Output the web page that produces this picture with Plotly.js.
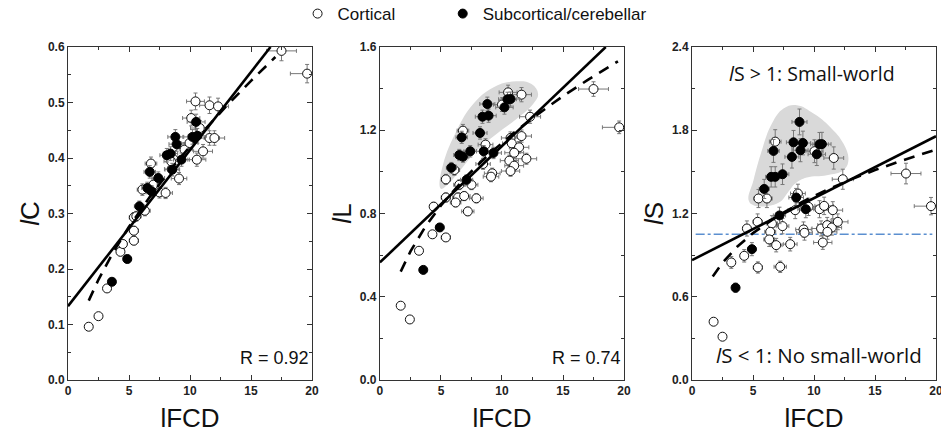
<!DOCTYPE html>
<html>
<head>
<meta charset="utf-8">
<script src="https://cdn.plot.ly/plotly-3.0.1.min.js"></script>
<style>html,body{margin:0;padding:0;background:#fff;}#chart{width:941px;height:436px;}</style>
</head>
<body>
<div id="chart"></div>
<script>
// ---------- Panel 1: lC ----------
const cCortX = [1.7,2.5,3.2,4.3,4.5,5.4,5.4,5.4,5.6,6.3,6.1,7.0,7.5,8.0,6.8,8.5,8.46,9.1,9.14,9.55,9.96,10.1,10.45,10.8,11.07,10.56,11.6,12.0,11.6,12.3,17.5,19.6];
const cCortY = [0.096,0.115,0.165,0.231,0.245,0.251,0.269,0.293,0.295,0.305,0.343,0.352,0.338,0.337,0.390,0.380,0.394,0.363,0.409,0.415,0.427,0.472,0.502,0.454,0.412,0.397,0.436,0.436,0.495,0.493,0.593,0.552];
const cSubX = [3.6,4.86,5.85,6.5,6.85,7.4,6.7,8.55,9.3,8.1,8.4,8.8,8.9,10.2,10.5,10.6];
const cSubY = [0.177,0.218,0.313,0.346,0.340,0.364,0.375,0.379,0.397,0.405,0.408,0.438,0.425,0.438,0.465,0.440];
const cSolidX = [0, 16.6];
const cSolidY = [0.133, 0.600];
const cDashX = [1.7,2.5,3.7,5,7,9,11,13,15,17];
const cDashY = [0.143,0.181,0.230,0.276,0.339,0.395,0.446,0.494,0.539,0.582];

// ---------- Panel 2: lL ----------
const lCortX = [17.5,19.6,10.5,11.6,10.0,12.3,6.8,8.65,10.7,11.6,10.8,11.4,11.0,12.0,10.6,11.0,10.7,9.2,9.1,8.45,6.1,5.4,6.5,7.5,5.4,6.4,6.9,7.9,6.2,4.4,7.2,4.3,5.4,3.2,1.7,2.45];
const lCortY = [1.398,1.214,1.382,1.371,1.323,1.265,1.198,1.131,1.163,1.172,1.137,1.118,1.092,1.063,1.054,1.030,1.004,0.993,0.977,1.038,1.009,0.964,0.938,0.938,0.877,0.877,0.884,0.873,0.853,0.833,0.810,0.700,0.685,0.621,0.357,0.291];
const lSubX = [10.45,10.7,10.2,8.8,8.9,8.4,8.2,6.7,7.4,6.5,6.8,8.5,9.3,5.85,7.1,4.9,3.55];
const lSubY = [1.349,1.350,1.310,1.326,1.270,1.265,1.187,1.166,1.099,1.081,1.073,1.099,1.091,1.020,0.962,0.733,0.529];
const lSolidX = [0, 18.5];
const lSolidY = [0.565, 1.600];
const lDashX = [1.7,2.5,3.7,5,7,9,11,13,15,17,19.5];
const lDashY = [0.521,0.618,0.735,0.839,0.974,1.088,1.189,1.280,1.364,1.441,1.531];
const lBlobX = [4.91,5.18,6.28,7.64,9.28,11.19,12.42,12.96,12.55,11.19,9.55,7.91,6.55,5.46,5.05];
const lBlobY = [0.926,1.038,1.198,1.326,1.406,1.435,1.422,1.374,1.326,1.254,1.182,1.102,1.006,0.934,0.918];

// ---------- Panel 3: lS ----------
const sCortX = [6.82,10.04,11.62,12.36,17.54,19.59,5.45,6.14,8.68,9.55,10.45,10.83,11.54,8.46,4.5,5.38,6.55,7.42,6.41,6.33,6.9,8.05,9.14,9.22,10.58,11.08,11.46,11.1,10.72,11.95,4.28,3.22,5.4,7.23,1.77,2.5];
const sCortY = [1.718,1.649,1.600,1.447,1.488,1.253,1.308,1.308,1.344,1.248,1.231,1.255,1.224,1.224,1.092,1.140,1.128,1.109,1.068,1.013,0.972,0.979,1.085,1.061,1.092,1.116,1.099,1.068,0.991,1.140,0.895,0.847,0.811,0.816,0.420,0.312];
const sSubX = [8.81,9.09,8.32,6.68,8.89,8.19,10.45,10.65,10.23,6.49,6.82,7.42,5.92,8.54,9.33,7.17,4.91,3.57];
const sSubY = [1.860,1.708,1.713,1.651,1.656,1.608,1.699,1.700,1.627,1.464,1.464,1.483,1.377,1.315,1.231,1.186,0.943,0.665];
const sSolidX = [0, 20];
const sSolidY = [0.864, 1.757];
const sDashX = [1.7,2.5,3.7,5,7,9,11,13,15,17,19.8];
const sDashY = [0.746,0.845,0.960,1.059,1.181,1.282,1.368,1.444,1.513,1.575,1.655];
const sBlobX = [4.64,5.04,5.73,6.55,7.5,8.6,9.96,11.32,12.41,12.82,12.41,11.05,9.41,8.46,7.9,7.23,6.14,5.04];
const sBlobY = [1.296,1.44,1.656,1.848,1.956,1.98,1.92,1.824,1.704,1.584,1.512,1.476,1.459,1.416,1.356,1.284,1.253,1.26];
const sRefX = [0.3, 19.7];
const sRefY = [1.05, 1.05];

// ---------- labels ----------
const legendNames = ['Cortical', 'Subcortical/cerebellar'];
const xTitle = 'lFCD';
const yTitles = ['<i>l</i>C', '<i>l</i>L', '<i>l</i>S'];
const rLabels = ['R = 0.92', 'R = 0.74'];
const swLabels = ['<i>l</i>S > 1: Small-world', '<i>l</i>S < 1: No small-world'];

const ARIAL = 'Liberation Sans, Arial, sans-serif';
const NBSP = '\u00a0';
const traces = [];

function blob(x, y, xa, ya) {
  traces.push({x: x.concat([x[0]]), y: y.concat([y[0]]), xaxis: xa, yaxis: ya, type: 'scatter', mode: 'lines',
    fill: 'toself', fillcolor: '#d9d9d9', line: {width: 0, shape: 'spline', smoothing: 1.2, color: '#d9d9d9'},
    showlegend: false, hoverinfo: 'skip'});
}
function points(cx, cy, sx, sy, xa, ya, ey, first) {
  const errX = {type: 'percent', value: 7, color: '#777', thickness: 1, width: 2};
  const errY = {type: 'percent', value: ey, color: '#777', thickness: 1, width: 2};
  traces.push({x: cx, y: cy, xaxis: xa, yaxis: ya, type: 'scatter', mode: 'markers',
    name: legendNames[0] + NBSP.repeat(9),
    legendrank: 1, showlegend: first,
    marker: {symbol: 'circle', size: 9, color: '#fff', line: {color: '#111', width: 1}},
    error_x: errX, error_y: errY});
  traces.push({x: sx, y: sy, xaxis: xa, yaxis: ya, type: 'scatter', mode: 'markers', name: legendNames[1],
    legendrank: 2, showlegend: first,
    marker: {symbol: 'circle', size: 9, color: '#000', line: {color: '#000', width: 1}},
    error_x: errX, error_y: errY});
}
function fits(solX, solY, dX, dY, xa, ya) {
  traces.push({x: dX, y: dY, xaxis: xa, yaxis: ya, type: 'scatter', mode: 'lines', showlegend: false,
    line: {color: '#000', width: 2.6, dash: '11px,8px'}, hoverinfo: 'skip'});
  traces.push({x: solX, y: solY, xaxis: xa, yaxis: ya, type: 'scatter', mode: 'lines', showlegend: false,
    line: {color: '#000', width: 2.6}, hoverinfo: 'skip'});
}

points(cCortX, cCortY, cSubX, cSubY, 'x', 'y', 3, true);
fits(cSolidX, cSolidY, cDashX, cDashY, 'x', 'y');

blob(lBlobX, lBlobY, 'x2', 'y2');
points(lCortX, lCortY, lSubX, lSubY, 'x2', 'y2', 2.5, false);
fits(lSolidX, lSolidY, lDashX, lDashY, 'x2', 'y2');

blob(sBlobX, sBlobY, 'x3', 'y3');
traces.push({x: sRefX, y: sRefY, xaxis: 'x3', yaxis: 'y3', type: 'scatter', mode: 'lines', showlegend: false,
  line: {color: '#5b8fd0', width: 1.6, dash: 'dashdot'}, hoverinfo: 'skip'});
points(sCortX, sCortY, sSubX, sSubY, 'x3', 'y3', 5, false);
fits(sSolidX, sSolidY, sDashX, sDashY, 'x3', 'y3');

const tickFont = {family: ARIAL, size: 12, weight: 'bold', color: '#222'};
function xAxis(domain, anchor) {
  return {domain: domain, anchor: anchor, range: [0, 20], tick0: 0, dtick: 5,
    ticks: 'inside', ticklen: 5, tickwidth: 1, tickcolor: '#333', ticklabeloverflow: 'allow',
    minor: {dtick: 2.5, ticks: 'inside', ticklen: 3, tickcolor: '#333', tickwidth: 1},
    showline: true, linecolor: '#333', linewidth: 1, mirror: 'allticks',
    showgrid: false, zeroline: false, tickfont: tickFont, automargin: false,
    title: {text: xTitle, font: {family: ARIAL, size: 26, color: '#111'}, standoff: 11}};
}
function yAxis(max, dt, title, anchor) {
  return {anchor: anchor, domain: [0, 1], range: [0, max], tick0: 0, dtick: dt, tickformat: '.1f',
    ticks: 'inside', ticklen: 5, tickwidth: 1, tickcolor: '#333',
    minor: {dtick: dt / 2, ticks: 'inside', ticklen: 3, tickcolor: '#333', tickwidth: 1},
    showline: true, linecolor: '#333', linewidth: 1, mirror: 'allticks',
    showgrid: false, zeroline: false, tickfont: tickFont, automargin: false,
    title: {text: title, font: {family: ARIAL, size: 26, color: '#111'}, standoff: 0}};
}

const layout = {
  width: 941, height: 436,
  margin: {l: 68, r: 5, t: 47, b: 56, autoexpand: false},
  paper_bgcolor: '#fff', plot_bgcolor: '#fff',
  showlegend: true,
  legend: {orientation: 'h', x: 0.2645, xanchor: 'left', y: 1.099, yanchor: 'middle',
    font: {family: ARIAL, size: 17, color: '#111'}, bgcolor: 'rgba(0,0,0,0)',
    traceorder: 'normal'},
  xaxis: xAxis([0, 0.2811], 'y'),
  yaxis: yAxis(0.6, 0.1, yTitles[0], 'x'),
  xaxis2: xAxis([0.3594, 0.6406], 'y2'),
  yaxis2: yAxis(1.6, 0.4, yTitles[1], 'x2'),
  xaxis3: xAxis([0.7189, 1], 'y3'),
  yaxis3: yAxis(2.4, 0.6, yTitles[2], 'x3'),
  annotations: [
    {xref: 'x', yref: 'y', x: 19.95, y: 0.039, text: rLabels[0], showarrow: false, xanchor: 'right', yanchor: 'middle',
      font: {family: ARIAL, size: 18, color: '#111'}},
    {xref: 'x2', yref: 'y2', x: 19.95, y: 0.104, text: rLabels[1], showarrow: false, xanchor: 'right', yanchor: 'middle',
      font: {family: ARIAL, size: 18, color: '#111'}},
    {xref: 'x3', yref: 'y3', x: 9.8, y: 2.21, text: swLabels[0], showarrow: false, xanchor: 'center', yanchor: 'middle',
      font: {family: 'Open Sans, Noto Sans, sans-serif', size: 19.5, color: '#111'}},
    {xref: 'x3', yref: 'y3', x: 10.4, y: 0.18, text: swLabels[1], showarrow: false, xanchor: 'center', yanchor: 'middle',
      font: {family: 'Open Sans, Noto Sans, sans-serif', size: 20.5, color: '#111'}}
  ]
};

Plotly.newPlot('chart', traces, layout, {displayModeBar: false, staticPlot: true});
</script>
</body>
</html>
